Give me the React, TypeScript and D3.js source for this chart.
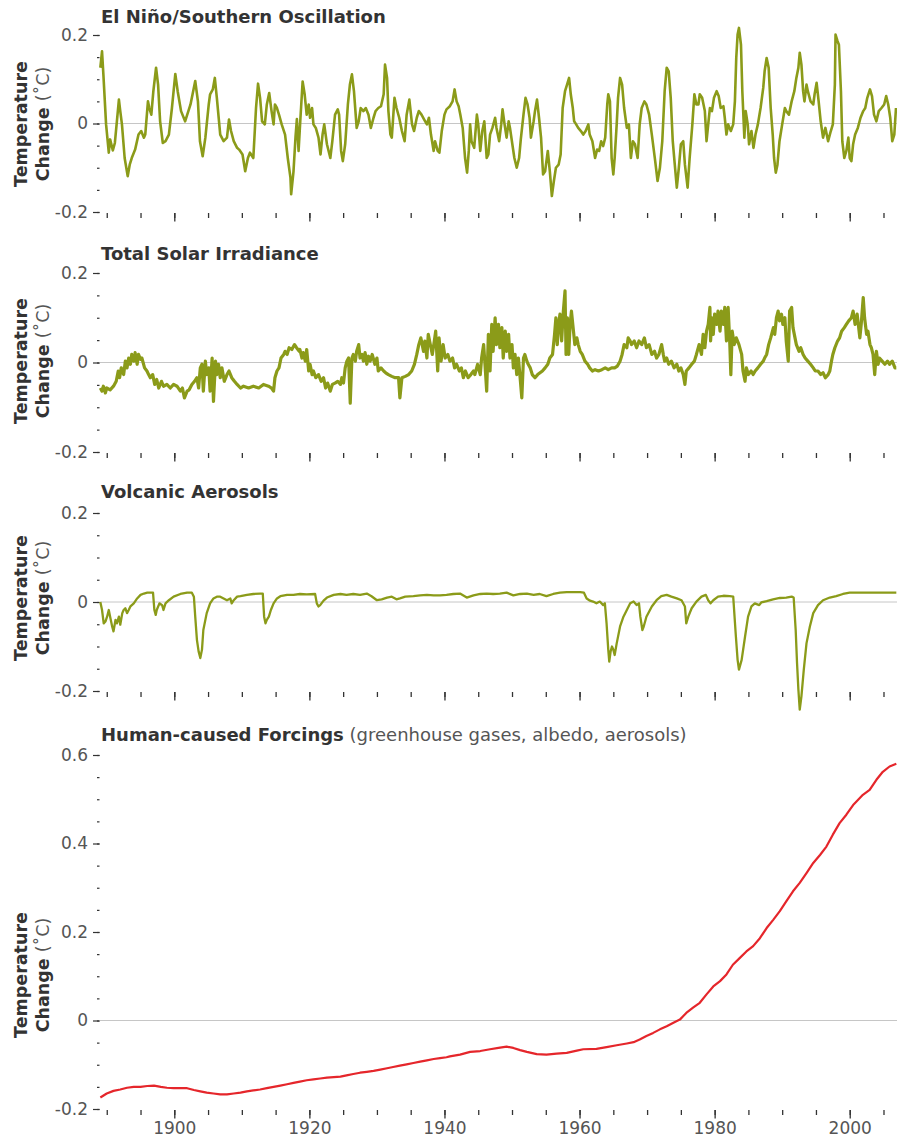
import { useEffect, useRef } from "react";
import * as d3 from "d3";

type Pt = [number, number];

// [year, temperature change in degC]
const ensoData: Pt[] = [
  [1889.05, 0.126], [1889.3, 0.163], [1889.5, 0.111], [1889.9, -0.002], [1890.3, -0.066], [1890.5, -0.036],
  [1890.9, -0.061], [1891.2, -0.044], [1891.5, 0.005], [1891.8, 0.054], [1892.0, 0.028], [1892.25, -0.002],
  [1892.65, -0.078], [1893.1, -0.119], [1893.4, -0.093], [1893.7, -0.078], [1894.2, -0.059], [1894.7, -0.025],
  [1895.1, -0.017], [1895.5, -0.032], [1895.7, -0.025], [1896.1, 0.05], [1896.3, 0.035], [1896.6, 0.02],
  [1896.9, 0.073], [1897.3, 0.126], [1897.6, 0.088], [1897.9, 0.005], [1898.3, -0.044], [1898.7, -0.04],
  [1899.2, -0.025], [1899.65, 0.035], [1900.15, 0.112], [1900.5, 0.073], [1901.0, 0.028], [1901.6, 0.005],
  [1902.4, 0.043], [1903.1, 0.096], [1903.5, 0.05], [1903.8, -0.04], [1904.2, -0.074], [1904.6, -0.032],
  [1905.1, 0.043], [1905.3, 0.066], [1905.7, 0.077], [1906.0, 0.103], [1906.3, 0.058], [1906.8, -0.025],
  [1907.3, -0.04], [1907.8, -0.032], [1908.1, 0.009], [1908.4, -0.017], [1908.8, -0.04], [1909.3, -0.055],
  [1909.6, -0.059], [1910.1, -0.07], [1910.5, -0.108], [1910.9, -0.078], [1911.2, -0.066], [1911.7, -0.078],
  [1912.1, 0.035], [1912.4, 0.09], [1912.7, 0.058], [1913.0, 0.005], [1913.4, -0.002], [1913.7, 0.043],
  [1914.05, 0.069], [1914.4, 0.028], [1914.7, -0.002], [1914.9, 0.043], [1915.2, 0.035], [1915.5, 0.02],
  [1915.9, -0.002], [1916.4, -0.025], [1916.8, -0.078], [1917.2, -0.123], [1917.3, -0.16], [1917.65, -0.108],
  [1917.95, -0.03], [1918.15, 0.01], [1918.4, -0.062], [1918.65, 0.005], [1919.0, 0.095], [1919.3, 0.066],
  [1919.6, 0.02], [1919.9, 0.043], [1920.1, 0.013], [1920.4, 0.035], [1920.6, -0.002], [1920.95, -0.01],
  [1921.35, -0.032], [1921.65, -0.07], [1921.95, -0.025], [1922.2, -0.002], [1922.6, -0.047], [1923.1, -0.078],
  [1923.4, -0.04], [1923.8, 0.02], [1924.2, 0.032], [1924.4, 0.02], [1924.7, -0.062], [1924.95, -0.085],
  [1925.3, -0.047], [1925.7, 0.043], [1926.0, 0.088], [1926.3, 0.111], [1926.6, 0.073], [1927.0, -0.01],
  [1927.3, 0.005], [1927.6, 0.035], [1928.0, 0.028], [1928.35, 0.035], [1928.75, 0.02], [1929.1, -0.01],
  [1929.5, 0.013], [1929.8, 0.028], [1930.2, 0.035], [1930.6, 0.039], [1931.0, 0.066], [1931.2, 0.133],
  [1931.5, 0.103], [1931.7, 0.028], [1932.0, -0.025], [1932.2, -0.032], [1932.6, 0.058], [1932.9, 0.035],
  [1933.3, 0.013], [1933.7, -0.017], [1934.1, -0.04], [1934.4, 0.02], [1934.8, 0.054], [1935.2, -0.002],
  [1935.5, -0.017], [1935.9, 0.013], [1936.2, 0.028], [1936.6, 0.02], [1937.0, 0.009], [1937.4, -0.002],
  [1937.7, 0.013], [1938.0, -0.025], [1938.4, -0.062], [1938.6, -0.04], [1939.0, -0.062], [1939.25, -0.066],
  [1939.6, -0.017], [1940.0, 0.02], [1940.3, 0.032], [1940.8, 0.039], [1941.2, 0.05], [1941.5, 0.077],
  [1941.8, 0.05], [1942.1, 0.039], [1942.35, 0.02], [1942.7, -0.01], [1943.05, -0.078], [1943.35, -0.111],
  [1943.6, -0.062], [1943.8, -0.002], [1944.0, -0.04], [1944.4, -0.055], [1944.8, 0.02], [1945.0, -0.002],
  [1945.3, -0.062], [1945.6, -0.017], [1945.9, 0.005], [1946.25, -0.078], [1946.5, -0.07], [1946.75, -0.025],
  [1947.1, -0.01], [1947.5, 0.013], [1947.7, -0.01], [1948.1, -0.04], [1948.4, -0.002], [1948.6, 0.032],
  [1948.9, -0.002], [1949.2, -0.032], [1949.5, 0.005], [1949.7, -0.01], [1950.05, -0.047], [1950.35, -0.078],
  [1950.7, -0.1], [1951.05, -0.078], [1951.3, -0.036], [1951.7, 0.02], [1952.0, 0.058], [1952.3, 0.043],
  [1952.6, 0.013], [1952.8, -0.032], [1953.2, 0.005], [1953.4, 0.028], [1953.7, 0.054], [1954.0, 0.013],
  [1954.3, -0.032], [1954.6, -0.115], [1954.9, -0.108], [1955.3, -0.062], [1955.6, -0.108], [1955.9, -0.164],
  [1956.2, -0.13], [1956.5, -0.1], [1956.9, -0.093], [1957.2, -0.07], [1957.5, 0.035], [1957.85, 0.073],
  [1958.15, 0.088], [1958.45, 0.103], [1958.7, 0.066], [1959.0, 0.035], [1959.2, 0.005], [1959.5, -0.002],
  [1959.8, -0.01], [1960.2, -0.017], [1960.55, -0.025], [1960.9, -0.017], [1961.3, -0.002], [1961.5, -0.025],
  [1961.9, -0.04], [1962.3, -0.078], [1962.6, -0.059], [1962.9, -0.062], [1963.2, -0.04], [1963.5, -0.051],
  [1963.8, -0.032], [1964.1, 0.043], [1964.25, 0.066], [1964.5, 0.05], [1964.75, -0.078], [1965.0, -0.115],
  [1965.2, -0.078], [1965.5, -0.002], [1965.7, 0.058], [1966.0, 0.103], [1966.3, 0.088], [1966.6, 0.035],
  [1967.0, -0.01], [1967.3, -0.002], [1967.6, -0.078], [1967.9, -0.04], [1968.2, -0.047], [1968.6, -0.078],
  [1968.9, -0.002], [1969.2, 0.035], [1969.6, 0.05], [1969.9, 0.043], [1970.3, 0.02], [1970.7, -0.025],
  [1971.2, -0.085], [1971.55, -0.13], [1971.9, -0.1], [1972.25, -0.04], [1972.6, 0.073], [1972.9, 0.126],
  [1973.2, 0.118], [1973.5, 0.058], [1973.8, -0.04], [1974.1, -0.093], [1974.4, -0.145], [1974.7, -0.1],
  [1975.0, -0.047], [1975.35, -0.04], [1975.6, -0.093], [1976.0, -0.145], [1976.3, -0.078], [1976.7, -0.002],
  [1977.0, 0.066], [1977.3, 0.043], [1977.6, 0.043], [1977.8, 0.066], [1978.15, 0.058], [1978.55, 0.028],
  [1978.8, -0.04], [1979.05, -0.002], [1979.3, 0.035], [1979.6, 0.028], [1979.9, 0.058], [1980.3, 0.073],
  [1980.6, 0.062], [1980.9, 0.035], [1981.3, 0.039], [1981.5, 0.013], [1981.75, -0.025], [1982.0, -0.002],
  [1982.4, -0.017], [1982.75, -0.002], [1983.0, 0.05], [1983.2, 0.148], [1983.4, 0.201], [1983.6, 0.216],
  [1983.9, 0.178], [1984.1, 0.073], [1984.4, -0.032], [1984.6, 0.028], [1984.9, -0.002], [1985.1, -0.047],
  [1985.45, -0.017], [1985.75, -0.055], [1986.05, -0.025], [1986.4, -0.002], [1986.8, 0.035], [1987.2, 0.081],
  [1987.4, 0.118], [1987.7, 0.148], [1988.0, 0.126], [1988.3, 0.035], [1988.6, -0.025], [1988.8, -0.078],
  [1989.05, -0.111], [1989.3, -0.093], [1989.6, -0.04], [1990.0, -0.002], [1990.4, 0.035], [1990.6, 0.028],
  [1991.0, 0.02], [1991.4, 0.05], [1991.8, 0.073], [1992.1, 0.103], [1992.4, 0.126], [1992.6, 0.16],
  [1992.85, 0.133], [1993.1, 0.073], [1993.3, 0.05], [1993.6, 0.088], [1993.8, 0.073], [1994.2, 0.05],
  [1994.6, 0.043], [1994.8, 0.066], [1995.1, 0.092], [1995.4, 0.05], [1995.7, 0.005], [1996.05, -0.032],
  [1996.4, -0.01], [1996.8, -0.04], [1997.2, -0.017], [1997.5, -0.002], [1997.8, 0.088], [1997.9, 0.201],
  [1998.2, 0.186], [1998.4, 0.178], [1998.7, 0.073], [1998.9, -0.04], [1999.2, -0.078], [1999.5, -0.062],
  [1999.8, -0.032], [2000.0, -0.078], [2000.25, -0.085], [2000.5, -0.047], [2000.8, -0.025], [2001.2, -0.01],
  [2001.6, 0.013], [2002.0, 0.028], [2002.3, 0.035], [2002.6, 0.058], [2003.0, 0.077], [2003.3, 0.062],
  [2003.6, 0.02], [2003.95, 0.005], [2004.3, 0.028], [2004.7, 0.035], [2005.1, 0.043], [2005.4, 0.062],
  [2005.7, 0.043], [2006.0, 0.013], [2006.3, -0.04], [2006.6, -0.025], [2006.85, 0.035],
];

const solarData: Pt[] = [
  [1889.05, -0.057], [1889.3, -0.064], [1889.5, -0.053], [1889.8, -0.068], [1890.0, -0.057], [1890.5, -0.061],
  [1891.0, -0.053], [1891.4, -0.042], [1891.7, -0.019], [1891.9, -0.034], [1892.15, -0.012], [1892.5, -0.027],
  [1892.75, 0.003], [1893.0, -0.012], [1893.25, 0.01], [1893.5, -0.004], [1893.7, 0.018], [1894.0, 0.003],
  [1894.2, 0.022], [1894.5, -0.004], [1894.7, 0.018], [1895.0, 0.007], [1895.2, 0.01], [1895.6, -0.012],
  [1895.95, -0.019], [1896.2, -0.027], [1896.45, -0.034], [1896.8, -0.027], [1897.1, -0.049], [1897.4, -0.038],
  [1897.7, -0.057], [1898.1, -0.042], [1898.4, -0.053], [1898.9, -0.049], [1899.4, -0.057], [1899.9, -0.049],
  [1900.4, -0.053], [1900.9, -0.064], [1901.2, -0.057], [1901.5, -0.079], [1901.9, -0.064], [1902.2, -0.061],
  [1902.6, -0.049], [1903.0, -0.042], [1903.35, -0.034], [1903.6, -0.057], [1903.85, -0.012], [1904.1, -0.004],
  [1904.3, -0.064], [1904.6, 0.003], [1904.8, -0.027], [1905.1, -0.012], [1905.3, -0.064], [1905.6, 0.01],
  [1905.8, -0.087], [1906.1, 0.003], [1906.3, -0.027], [1906.55, -0.004], [1906.8, -0.034], [1907.05, -0.012],
  [1907.4, -0.042], [1907.8, -0.027], [1908.1, -0.019], [1908.5, -0.034], [1908.9, -0.042], [1909.3, -0.049],
  [1909.8, -0.057], [1910.25, -0.053], [1911.0, -0.057], [1911.7, -0.053], [1912.5, -0.057], [1913.2, -0.049],
  [1913.95, -0.053], [1914.4, -0.057], [1914.7, -0.064], [1914.9, -0.034], [1915.2, -0.019], [1915.5, -0.012],
  [1915.8, 0.01], [1916.2, 0.018], [1916.4, 0.025], [1916.7, 0.018], [1917.0, 0.033], [1917.4, 0.029],
  [1917.8, 0.04], [1918.1, 0.033], [1918.5, 0.025], [1918.6, 0.029], [1918.9, 0.01], [1919.1, 0.022],
  [1919.4, 0.003], [1919.6, 0.029], [1919.9, -0.019], [1920.1, -0.004], [1920.4, -0.027], [1920.6, -0.019],
  [1920.95, -0.034], [1921.35, -0.027], [1921.75, -0.042], [1922.1, -0.034], [1922.4, -0.057], [1922.7, -0.046],
  [1923.1, -0.064], [1923.4, -0.049], [1923.8, -0.046], [1924.2, -0.042], [1924.6, -0.049], [1924.8, -0.034],
  [1925.05, -0.046], [1925.3, -0.012], [1925.55, 0.003], [1925.8, 0.01], [1926.05, -0.091], [1926.3, 0.01],
  [1926.5, 0.018], [1926.8, 0.003], [1927.0, 0.025], [1927.3, 0.04], [1927.5, 0.01], [1927.8, 0.018],
  [1928.0, 0.003], [1928.25, 0.022], [1928.5, -0.004], [1928.75, 0.014], [1929.0, 0.003], [1929.3, 0.018],
  [1929.7, -0.004], [1930.0, 0.01], [1930.2, -0.019], [1930.6, -0.012], [1931.0, -0.019], [1931.3, -0.023],
  [1931.7, -0.027], [1932.2, -0.031], [1932.7, -0.034], [1933.2, -0.034], [1933.4, -0.079], [1933.7, -0.034],
  [1934.2, -0.031], [1934.7, -0.027], [1935.15, -0.019], [1935.55, -0.004], [1935.9, 0.018], [1936.2, 0.04],
  [1936.5, 0.055], [1936.9, 0.025], [1937.1, 0.048], [1937.4, 0.01], [1937.6, 0.063], [1938.0, 0.033],
  [1938.2, 0.018], [1938.5, 0.048], [1938.7, 0.07], [1939.0, -0.019], [1939.2, 0.055], [1939.5, 0.003],
  [1939.8, 0.04], [1940.1, 0.01], [1940.5, 0.018], [1940.8, 0.003], [1941.2, 0.01], [1941.5, -0.012],
  [1941.8, -0.004], [1942.2, -0.019], [1942.5, -0.012], [1942.8, -0.034], [1943.1, -0.019], [1943.5, -0.034],
  [1943.9, -0.027], [1944.3, -0.019], [1944.5, -0.027], [1944.9, -0.004], [1945.3, -0.027], [1945.5, 0.01],
  [1945.8, 0.04], [1946.0, -0.004], [1946.25, -0.064], [1946.5, 0.063], [1946.75, -0.019], [1947.0, 0.085],
  [1947.2, 0.025], [1947.5, 0.1], [1947.7, 0.04], [1948.0, 0.085], [1948.2, 0.033], [1948.5, 0.078],
  [1948.7, 0.01], [1949.0, 0.07], [1949.2, 0.025], [1949.5, 0.063], [1949.7, 0.01], [1950.0, 0.04],
  [1950.2, -0.012], [1950.45, 0.018], [1950.7, -0.027], [1950.95, 0.01], [1951.2, -0.034], [1951.45, -0.079],
  [1951.7, 0.01], [1951.9, 0.018], [1952.2, 0.003], [1952.4, -0.004], [1952.7, -0.012], [1953.0, -0.027],
  [1953.4, -0.034], [1953.8, -0.027], [1954.15, -0.023], [1954.5, -0.019], [1954.9, -0.012], [1955.3, -0.004],
  [1955.6, 0.01], [1956.0, 0.018], [1956.3, 0.063], [1956.5, 0.1], [1956.7, 0.04], [1956.9, 0.085],
  [1957.1, 0.108], [1957.35, 0.048], [1957.6, 0.115], [1957.85, 0.16], [1958.0, 0.018], [1958.2, 0.1],
  [1958.4, 0.018], [1958.6, 0.085], [1958.8, 0.115], [1959.1, 0.07], [1959.3, 0.04], [1959.6, 0.055],
  [1959.8, 0.04], [1960.1, 0.025], [1960.4, 0.018], [1960.8, 0.003], [1961.2, -0.004], [1961.5, -0.012],
  [1961.9, -0.019], [1962.3, -0.016], [1962.8, -0.019], [1963.3, -0.016], [1963.8, -0.012], [1964.25, -0.016],
  [1964.75, -0.012], [1965.2, -0.012], [1965.6, -0.008], [1966.0, 0.003], [1966.3, 0.018], [1966.6, 0.04],
  [1967.0, 0.033], [1967.2, 0.055], [1967.5, 0.048], [1967.7, 0.04], [1968.1, 0.048], [1968.45, 0.033],
  [1968.8, 0.048], [1969.2, 0.04], [1969.6, 0.055], [1969.9, 0.033], [1970.3, 0.04], [1970.7, 0.018],
  [1971.1, 0.025], [1971.4, 0.01], [1971.75, 0.018], [1972.15, 0.04], [1972.4, 0.018], [1972.6, 0.003],
  [1972.9, 0.01], [1973.2, -0.004], [1973.6, 0.003], [1974.0, -0.012], [1974.4, -0.004], [1974.7, -0.019],
  [1975.0, -0.012], [1975.35, -0.027], [1975.6, -0.049], [1975.8, -0.019], [1976.2, -0.012], [1976.6, -0.004],
  [1977.0, 0.003], [1977.3, 0.018], [1977.7, 0.04], [1978.05, 0.018], [1978.3, 0.063], [1978.55, 0.033],
  [1978.8, 0.07], [1979.05, 0.085], [1979.3, 0.123], [1979.4, 0.048], [1979.6, 0.1], [1979.8, 0.063],
  [1980.0, 0.108], [1980.3, 0.085], [1980.5, 0.115], [1980.8, 0.07], [1981.0, 0.115], [1981.3, 0.085],
  [1981.5, 0.123], [1981.75, 0.048], [1982.0, 0.123], [1982.25, 0.04], [1982.4, -0.027], [1982.6, 0.07],
  [1982.9, 0.04], [1983.2, 0.055], [1983.6, 0.04], [1984.0, 0.018], [1984.2, -0.019], [1984.5, -0.042],
  [1984.7, -0.012], [1985.0, -0.027], [1985.4, -0.019], [1985.7, -0.027], [1986.0, -0.019], [1986.4, -0.012],
  [1986.8, -0.004], [1987.2, 0.003], [1987.4, 0.01], [1987.7, 0.018], [1988.0, 0.04], [1988.3, 0.055],
  [1988.7, 0.078], [1988.9, 0.063], [1989.15, 0.1], [1989.4, 0.115], [1989.6, 0.093], [1989.9, 0.108],
  [1990.1, 0.085], [1990.4, 0.1], [1990.6, 0.048], [1990.9, 0.003], [1991.1, 0.115], [1991.4, 0.123],
  [1991.6, 0.078], [1991.9, 0.055], [1992.1, 0.04], [1992.5, 0.025], [1992.75, 0.033], [1993.1, 0.018],
  [1993.4, 0.01], [1993.8, 0.003], [1994.2, -0.004], [1994.6, -0.012], [1994.9, -0.019], [1995.3, -0.019],
  [1995.7, -0.027], [1996.05, -0.023], [1996.4, -0.034], [1996.8, -0.027], [1997.05, -0.019], [1997.3, 0.003],
  [1997.5, 0.018], [1997.8, 0.033], [1998.2, 0.048], [1998.5, 0.055], [1998.8, 0.07], [1999.2, 0.078],
  [1999.5, 0.085], [1999.85, 0.093], [2000.25, 0.1], [2000.5, 0.115], [2000.8, 0.085], [2001.1, 0.108],
  [2001.5, 0.055], [2001.7, 0.085], [2002.0, 0.145], [2002.2, 0.1], [2002.5, 0.063], [2002.7, 0.07],
  [2003.0, 0.04], [2003.2, 0.033], [2003.45, 0.018], [2003.7, -0.027], [2003.95, 0.025], [2004.2, -0.004],
  [2004.4, 0.01], [2004.8, 0.003], [2005.2, -0.004], [2005.6, 0.003], [2005.9, -0.004], [2006.3, 0.003],
  [2006.7, -0.012], [2006.9, -0.012],
];

const volcanicData: Pt[] = [
  [1889.05, 0.0], [1889.3, -0.018], [1889.55, -0.048], [1889.8, -0.044], [1890.05, -0.033], [1890.3, -0.018],
  [1890.5, -0.033], [1890.8, -0.055], [1891.0, -0.066], [1891.3, -0.04], [1891.5, -0.048], [1891.8, -0.033],
  [1892.0, -0.051], [1892.3, -0.025], [1892.5, -0.018], [1892.75, -0.014], [1893.0, -0.025], [1893.25, -0.018],
  [1893.5, -0.01], [1894.0, -0.003], [1894.5, 0.008], [1895.0, 0.016], [1895.5, 0.019], [1896.0, 0.021],
  [1896.85, 0.021], [1897.05, -0.018], [1897.25, -0.029], [1897.4, -0.018], [1897.8, -0.003], [1898.2, -0.007],
  [1898.4, -0.018], [1898.7, -0.003], [1899.2, 0.004], [1899.9, 0.012], [1900.9, 0.018], [1901.9, 0.021],
  [1902.6, 0.021], [1902.9, 0.012], [1903.1, -0.033], [1903.35, -0.085], [1903.6, -0.111], [1903.85, -0.126],
  [1904.1, -0.107], [1904.3, -0.063], [1904.8, -0.025], [1905.3, -0.003], [1905.8, 0.008], [1906.3, 0.012],
  [1906.8, 0.012], [1907.3, 0.008], [1907.8, 0.004], [1908.3, 0.008], [1908.5, -0.003], [1908.8, 0.004],
  [1909.3, 0.012], [1909.8, 0.013], [1910.75, 0.016], [1911.7, 0.018], [1912.7, 0.019], [1913.1, 0.019],
  [1913.3, -0.033], [1913.5, -0.048], [1913.7, -0.04], [1914.0, -0.033], [1914.3, -0.018], [1914.7, -0.003],
  [1915.2, 0.008], [1915.7, 0.013], [1916.7, 0.016], [1917.65, 0.016], [1918.6, 0.018], [1919.6, 0.017],
  [1920.85, 0.018], [1921.1, -0.003], [1921.35, -0.01], [1921.6, -0.007], [1922.1, 0.003], [1922.6, 0.01],
  [1923.6, 0.016], [1924.6, 0.018], [1925.5, 0.016], [1926.5, 0.018], [1927.5, 0.016], [1928.5, 0.019],
  [1929.2, 0.013], [1930.0, 0.004], [1930.7, 0.006], [1931.5, 0.01], [1932.2, 0.012], [1932.9, 0.006],
  [1933.4, 0.008], [1934.2, 0.012], [1935.4, 0.013], [1936.4, 0.015], [1937.4, 0.016], [1938.4, 0.015],
  [1939.35, 0.015], [1940.3, 0.016], [1941.3, 0.018], [1942.3, 0.019], [1943.3, 0.01], [1944.3, 0.015],
  [1945.3, 0.018], [1946.25, 0.019], [1947.2, 0.018], [1948.2, 0.019], [1949.2, 0.021], [1950.2, 0.015],
  [1951.2, 0.018], [1952.2, 0.019], [1953.2, 0.016], [1954.1, 0.018], [1955.1, 0.013], [1956.1, 0.018],
  [1957.1, 0.021], [1958.1, 0.022], [1959.1, 0.022], [1960.1, 0.022], [1960.65, 0.021], [1961.05, 0.008],
  [1961.55, 0.003], [1962.0, 0.001], [1962.5, -0.003], [1963.0, 0.001], [1963.5, -0.007], [1963.75, -0.003],
  [1964.0, -0.048], [1964.25, -0.107], [1964.4, -0.134], [1964.6, -0.111], [1964.8, -0.1], [1965.0, -0.107],
  [1965.2, -0.119], [1965.5, -0.093], [1966.0, -0.055], [1966.5, -0.033], [1967.0, -0.018], [1967.5, -0.003],
  [1968.0, 0.001], [1968.45, -0.007], [1968.8, -0.003], [1969.0, -0.033], [1969.3, -0.063], [1969.5, -0.055],
  [1969.9, -0.033], [1970.7, -0.01], [1971.4, 0.004], [1972.1, 0.013], [1972.9, 0.016], [1973.6, 0.012],
  [1974.4, 0.008], [1975.1, 0.004], [1975.6, -0.01], [1975.8, -0.048], [1976.1, -0.033], [1976.6, -0.014],
  [1977.3, 0.001], [1978.05, 0.012], [1978.7, 0.016], [1979.05, 0.004], [1979.4, -0.003], [1979.8, 0.004],
  [1980.5, 0.012], [1981.3, 0.014], [1982.25, 0.013], [1982.75, 0.012], [1983.15, -0.078], [1983.4, -0.13],
  [1983.6, -0.152], [1984.0, -0.13], [1984.5, -0.078], [1984.95, -0.033], [1985.45, -0.01], [1985.95, -0.003],
  [1986.6, -0.007], [1986.9, -0.001], [1987.7, 0.002], [1988.65, 0.006], [1989.65, 0.009], [1990.6, 0.01],
  [1991.4, 0.012], [1991.7, 0.01], [1992.0, -0.063], [1992.2, -0.137], [1992.4, -0.197], [1992.6, -0.242],
  [1992.85, -0.212], [1993.2, -0.152], [1993.6, -0.093], [1994.1, -0.055], [1994.6, -0.025], [1995.3, -0.007],
  [1996.05, 0.004], [1997.05, 0.01], [1998.0, 0.013], [1999.0, 0.018], [2000.0, 0.021], [2001.5, 0.021],
  [2003.45, 0.021], [2005.4, 0.021], [2006.9, 0.021],
];

const humanData: Pt[] = [
  [1889.05, -0.174], [1890.0, -0.165], [1891.0, -0.159], [1892.0, -0.156], [1893.0, -0.152], [1894.0, -0.15],
  [1895.0, -0.15], [1896.0, -0.148], [1897.0, -0.147], [1898.0, -0.15], [1898.9, -0.152], [1899.9, -0.153],
  [1900.9, -0.153], [1901.9, -0.153], [1902.9, -0.157], [1903.85, -0.16], [1904.8, -0.163], [1905.8, -0.165],
  [1906.8, -0.167], [1907.8, -0.167], [1908.8, -0.165], [1909.8, -0.163], [1910.75, -0.16], [1911.7, -0.158],
  [1912.7, -0.156], [1913.7, -0.153], [1914.7, -0.15], [1915.7, -0.147], [1916.7, -0.144], [1917.65, -0.141],
  [1918.6, -0.138], [1919.6, -0.135], [1920.6, -0.133], [1921.6, -0.131], [1922.6, -0.129], [1923.6, -0.128],
  [1924.6, -0.127], [1925.5, -0.124], [1926.5, -0.121], [1927.5, -0.118], [1928.5, -0.116], [1929.5, -0.114],
  [1930.5, -0.111], [1931.5, -0.108], [1932.4, -0.105], [1933.4, -0.102], [1934.4, -0.099], [1935.4, -0.096],
  [1936.4, -0.093], [1937.4, -0.09], [1938.4, -0.087], [1939.35, -0.085], [1940.3, -0.083], [1940.8, -0.081],
  [1942.3, -0.077], [1943.8, -0.071], [1945.3, -0.069], [1946.75, -0.065], [1948.0, -0.062], [1949.2, -0.059],
  [1950.2, -0.062], [1951.2, -0.067], [1952.2, -0.071], [1953.65, -0.076], [1955.1, -0.077], [1956.6, -0.075],
  [1958.1, -0.073], [1959.6, -0.068], [1960.55, -0.065], [1962.5, -0.064], [1964.0, -0.06], [1965.5, -0.056],
  [1967.0, -0.052], [1968.0, -0.049], [1968.9, -0.043], [1969.9, -0.035], [1970.9, -0.028], [1971.9, -0.02],
  [1972.9, -0.013], [1973.9, -0.005], [1974.85, 0.002], [1975.8, 0.017], [1976.8, 0.029], [1977.8, 0.04],
  [1978.8, 0.059], [1979.8, 0.077], [1980.8, 0.089], [1981.75, 0.104], [1982.7, 0.126], [1983.7, 0.141],
  [1984.7, 0.156], [1985.7, 0.168], [1986.7, 0.186], [1987.7, 0.209], [1988.7, 0.228], [1989.65, 0.247],
  [1990.6, 0.269], [1991.6, 0.292], [1992.6, 0.311], [1993.6, 0.333], [1994.6, 0.356], [1995.6, 0.374],
  [1996.55, 0.393], [1997.5, 0.42], [1998.5, 0.446], [1999.5, 0.465], [2000.5, 0.487], [2001.0, 0.495],
  [2001.95, 0.51], [2002.95, 0.521], [2003.95, 0.544], [2004.9, 0.562], [2005.9, 0.574], [2006.9, 0.58],
];

const yearTicks = [1890, 1895, 1900, 1905, 1910, 1915, 1920, 1925, 1930, 1935, 1940, 1945, 1950, 1955, 1960, 1965, 1970, 1975, 1980, 1985, 1990, 1995, 2000, 2005];
const yearLabels = [1900, 1920, 1940, 1960, 1980, 2000];
const smallMinor = [-0.2, -0.15, -0.1, -0.05, 0, 0.05, 0.1, 0.15, 0.2];
const smallLabels = [-0.2, 0, 0.2];
const humanMinor = [-0.2, -0.15, -0.1, -0.05, 0, 0.05, 0.1, 0.15, 0.2, 0.25, 0.3, 0.35, 0.4, 0.45, 0.5, 0.55, 0.6];
const humanLabels = [-0.2, 0, 0.2, 0.4, 0.6];

const OLIVE = "#8b9b19";
const RED = "#e5262b";
const FONT = "'DejaVu Sans', Verdana, sans-serif";

const panels = [
  { title: "El Niño/Southern Oscillation", note: "", data: ensoData, color: OLIVE, lw: 2.6, domain: [-0.2, 0.2], top: 35, bottom: 212, titleY: 22.5, labelY: 124, minor: smallMinor, labels: smallLabels, years: false },
  { title: "Total Solar Irradiance", note: "", data: solarData, color: OLIVE, lw: 3.2, domain: [-0.2, 0.2], top: 273, bottom: 452, titleY: 260, labelY: 361, minor: smallMinor, labels: smallLabels, years: false },
  { title: "Volcanic Aerosols", note: "", data: volcanicData, color: OLIVE, lw: 2.3, domain: [-0.2, 0.2], top: 513, bottom: 691, titleY: 498, labelY: 598, minor: smallMinor, labels: smallLabels, years: false },
  { title: "Human-caused Forcings", note: " (greenhouse gases, albedo, aerosols)", data: humanData, color: RED, lw: 2.2, domain: [-0.2, 0.6], top: 755, bottom: 1109, titleY: 741, labelY: 975, minor: humanMinor, labels: humanLabels, years: true },
];

export default function App() {
  const svgRef = useRef<SVGSVGElement>(null);

  useEffect(() => {
    if (!svgRef.current) return;
    const svg = d3.select(svgRef.current);
    svg.selectAll("*").remove();

    const x = d3.scaleLinear().domain([1889, 2007]).range([100, 897]);

    panels.forEach((p) => {
      const y = d3.scaleLinear().domain(p.domain).range([p.bottom, p.top]);
      const g = svg.append("g");

      // zero line
      g.append("line")
        .attr("x1", x(1889))
        .attr("x2", x(2007))
        .attr("y1", y(0))
        .attr("y2", y(0))
        .attr("stroke", "#c6c6c6")
        .attr("stroke-width", 1);

      // y minor ticks
      const yMinor = g
        .append("g")
        .attr("transform", "translate(99.5,0)")
        .call(d3.axisLeft(y).tickValues(p.minor).tickSize(2.5).tickFormat(() => ""));
      yMinor.select(".domain").remove();
      yMinor.selectAll("line").attr("stroke", "#333").attr("stroke-width", 1.2);

      // y major ticks + labels
      const yMajor = g
        .append("g")
        .attr("transform", "translate(99.5,0)")
        .call(
          d3
            .axisLeft(y)
            .tickValues(p.labels)
            .tickSize(6.5)
            .tickPadding(5)
            .tickFormat((d) => (+d === 0 ? "0" : String(d))),
        );
      yMajor.select(".domain").remove();
      yMajor.selectAll("line").attr("stroke", "#333").attr("stroke-width", 1.2);
      yMajor
        .selectAll("text")
        .attr("fill", "#555")
        .style("font-family", FONT)
        .style("font-size", "17px");

      // x ticks
      const base = p.bottom + 1;
      const xMinor = g
        .append("g")
        .attr("transform", `translate(0,${base})`)
        .call(d3.axisBottom(x).tickValues(yearTicks).tickSize(5).tickFormat(() => ""));
      xMinor.select(".domain").remove();
      xMinor.selectAll("line").attr("stroke", "#333").attr("stroke-width", 1.3);

      const xMajor = g
        .append("g")
        .attr("transform", `translate(0,${base})`)
        .call(
          d3
            .axisBottom(x)
            .tickValues(yearLabels)
            .tickSize(8.5)
            .tickPadding(3.5)
            .tickFormat((d) => (p.years ? String(d) : "")),
        );
      xMajor.select(".domain").remove();
      xMajor.selectAll("line").attr("stroke", "#333").attr("stroke-width", 1.3);
      xMajor
        .selectAll("text")
        .attr("fill", "#555")
        .style("font-family", FONT)
        .style("font-size", "17px");

      // series
      const line = d3
        .line<Pt>()
        .x((d) => x(d[0]))
        .y((d) => y(d[1]));
      g.append("path")
        .datum(p.data)
        .attr("fill", "none")
        .attr("stroke", p.color)
        .attr("stroke-width", p.lw)
        .attr("stroke-linejoin", "round")
        .attr("d", line);

      // title
      const t = g
        .append("text")
        .attr("x", 101)
        .attr("y", p.titleY)
        .style("font-family", FONT)
        .style("font-size", "18px");
      t.append("tspan").attr("font-weight", "bold").attr("fill", "#333").text(p.title);
      if (p.note) t.append("tspan").attr("fill", "#555").text(p.note);

      // y axis title
      g.append("text")
        .attr("transform", `translate(27,${p.labelY}) rotate(-90)`)
        .attr("text-anchor", "middle")
        .attr("font-weight", "bold")
        .attr("fill", "#333")
        .style("font-family", FONT)
        .style("font-size", "17.5px")
        .text("Temperature");
      const c = g
        .append("text")
        .attr("transform", `translate(49,${p.labelY}) rotate(-90)`)
        .attr("text-anchor", "middle")
        .attr("fill", "#333")
        .style("font-family", FONT)
        .style("font-size", "17.5px");
      c.append("tspan").attr("font-weight", "bold").text("Change ");
      c.append("tspan").attr("fill", "#555").text("(˚C)");
    });
  }, []);

  return (
    <svg
      ref={svgRef}
      width={897}
      height={1139}
      style={{ position: "absolute", left: 0, top: 0, background: "#fff" }}
    />
  );
}
